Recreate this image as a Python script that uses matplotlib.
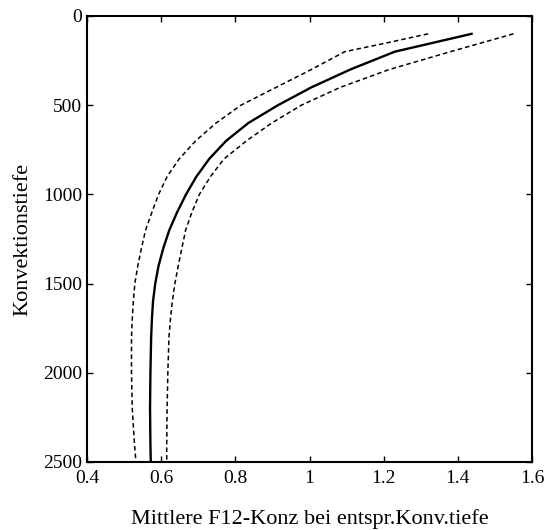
import matplotlib
matplotlib.use("Agg")
import matplotlib.pyplot as plt

# depth of convection and mean F12 concentration
depth = [100, 200, 300, 400, 500, 600, 700, 800, 900, 1000, 1100,
         1200, 1300, 1400, 1500, 1600, 1700, 1800, 2000, 2200, 2400, 2500]
mean_conc = [1.437, 1.23, 1.11, 1.005, 0.915, 0.835, 0.775, 0.73, 0.695, 0.667, 0.643,
             0.622, 0.606, 0.593, 0.584, 0.578, 0.575, 0.573, 0.571, 0.570, 0.571, 0.572]

depth_lo = [100, 150, 200, 300, 400, 500, 600, 700, 800, 900, 1000, 1100,
            1200, 1300, 1400, 1500, 1600, 1700, 1800, 2000, 2200, 2400, 2500]
lower_conc = [1.32, 1.21, 1.095, 1.005, 0.91, 0.815, 0.748, 0.693, 0.649, 0.616, 0.593, 0.575,
              0.558, 0.547, 0.537, 0.529, 0.525, 0.522, 0.520, 0.520, 0.522, 0.528, 0.532]

upper_conc = [1.55, 1.38, 1.215, 1.083, 0.978, 0.898, 0.83, 0.77, 0.733, 0.703, 0.683,
              0.666, 0.656, 0.646, 0.637, 0.630, 0.625, 0.621, 0.618, 0.616, 0.615, 0.615]

xticks = [0.4, 0.6, 0.8, 1.0, 1.2, 1.4, 1.6]
xticklabels = ["0.4", "0.6", "0.8", "1", "1.2", "1.4", "1.6"]
yticks = [0, 500, 1000, 1500, 2000, 2500]

plt.rcParams["font.family"] = ["Liberation Serif", "DejaVu Serif"]

fig = plt.figure(figsize=(5.46, 5.30), dpi=100, facecolor="white")
ax = fig.add_axes([87 / 546, 1 - 462 / 530, 445 / 546, 446 / 530])

ax.plot(mean_conc, depth, color="black", linewidth=1.7)
ax.plot(lower_conc, depth_lo, color="black", linewidth=1.1, linestyle=(0, (3, 2)))
ax.plot(upper_conc, depth, color="black", linewidth=1.1, linestyle=(0, (3, 2)))

ax.set_xlim(0.4, 1.6)
ax.set_ylim(2500, 0)
ax.set_xticks(xticks)
ax.set_xticklabels(xticklabels)
ax.set_yticks(yticks)

ax.tick_params(direction="in", top=True, right=True, length=4, width=1.0,
               labelsize=14)
ax.tick_params(axis="x", pad=6)
for s in ax.spines.values():
    s.set_linewidth(1.5)

ax.set_xlabel("Mittlere F12-Konz bei entspr.Konv.tiefe", fontsize=16, labelpad=16)
ax.set_ylabel("Konvektionstiefe", fontsize=16, labelpad=8)

fig.savefig("out.png", dpi=100, facecolor="white")
